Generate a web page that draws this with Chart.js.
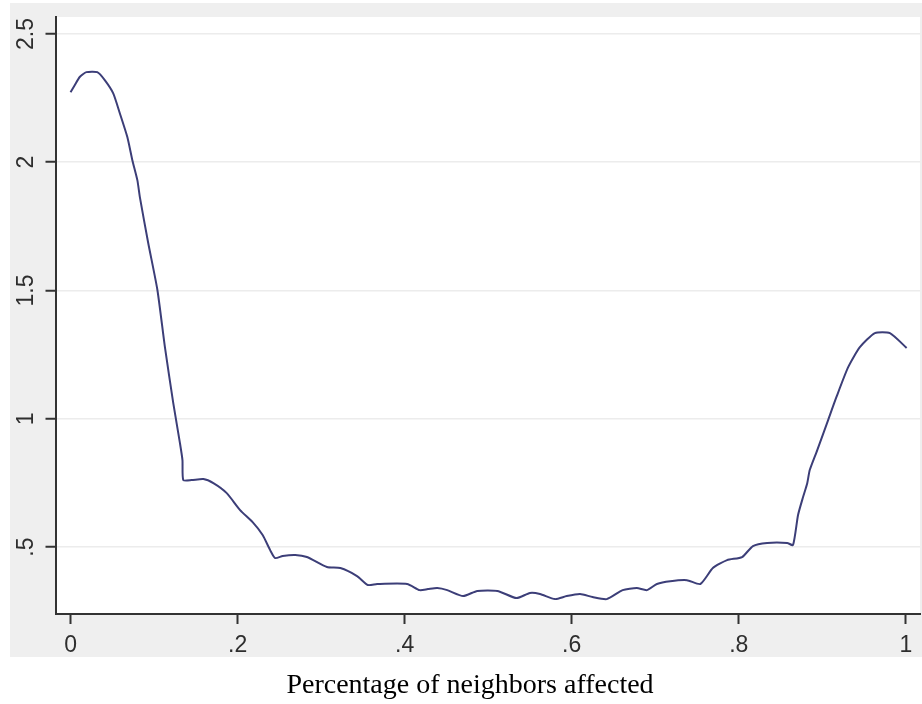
<!DOCTYPE html>
<html>
<head>
<meta charset="utf-8">
<script src="https://cdn.jsdelivr.net/npm/chart.js@4"></script>
<style>
html, body { margin: 0; padding: 0; background: #fff; }
</style>
</head>
<body>
<canvas id="chartDensity" width="922" height="704"></canvas>
<script>
// values
const xValues = [0.000, 0.005, 0.011, 0.019, 0.032, 0.041, 0.051, 0.059, 0.068, 0.074, 0.080, 0.083,
    0.093, 0.104, 0.113, 0.123, 0.131, 0.134, 0.135, 0.145, 0.159, 0.171, 0.187, 0.203, 0.218,
    0.230, 0.239, 0.245, 0.254, 0.269, 0.283, 0.307, 0.323, 0.343, 0.356, 0.367, 0.403, 0.418,
    0.428, 0.439, 0.451, 0.470, 0.487, 0.511, 0.534, 0.550, 0.562, 0.580, 0.594, 0.610, 0.625,
    0.642, 0.661, 0.678, 0.690, 0.702, 0.718, 0.738, 0.754, 0.769, 0.786, 0.804, 0.817, 0.834,
    0.858, 0.865, 0.871, 0.877, 0.882, 0.885, 0.894, 0.907, 0.917, 0.931, 0.945, 0.963, 0.981, 1.001];
const densityValues = [2.273, 2.300, 2.332, 2.351, 2.351, 2.320, 2.269, 2.191, 2.098, 2.008, 1.930, 1.864,
    1.685, 1.502, 1.279, 1.061, 0.905, 0.839, 0.761, 0.761, 0.765, 0.749, 0.710, 0.644, 0.597,
    0.547, 0.488, 0.457, 0.465, 0.469, 0.461, 0.422, 0.418, 0.387, 0.352, 0.356, 0.356, 0.332,
    0.336, 0.340, 0.332, 0.309, 0.329, 0.329, 0.301, 0.321, 0.317, 0.297, 0.309, 0.317, 0.305,
    0.297, 0.332, 0.340, 0.332, 0.356, 0.367, 0.371, 0.356, 0.418, 0.449, 0.461, 0.504, 0.516,
    0.516, 0.508, 0.625, 0.695, 0.749, 0.800, 0.878, 0.995, 1.085, 1.201, 1.279, 1.334, 1.334, 1.276];

const xTicks = [0, 0.2, 0.4, 0.6, 0.8, 1];
const xTickLabels = ['0', '.2', '.4', '.6', '.8', '1'];
const yTicks = [0.5, 1, 1.5, 2, 2.5];
const yTickLabels = ['.5', '1', '1.5', '2', '2.5'];
const xTitle = 'Percentage of neighbors affected';

const labelFont = '"Liberation Sans", Arial, sans-serif';

// gray frame, white plot region, rotated y labels and the x title
const stataFrame = {
    id: 'stataFrame',
    beforeDraw(chart) {
        const { ctx, chartArea: a } = chart;
        ctx.save();
        ctx.fillStyle = '#fff';
        ctx.fillRect(0, 0, chart.width, chart.height);
        ctx.fillStyle = '#efefef';
        ctx.fillRect(10, 3, chart.width - 10, 654);
        ctx.fillStyle = '#fff';
        ctx.fillRect(a.left, a.top, a.right - a.left, a.bottom - a.top);
        ctx.restore();
    },
    afterDraw(chart) {
        const { ctx } = chart;
        const yScale = chart.scales.y;
        ctx.save();
        ctx.font = '23px ' + labelFont;
        ctx.fillStyle = '#2e2e2e';
        ctx.textAlign = 'center';
        ctx.textBaseline = 'alphabetic';
        yTicks.forEach((v, i) => {
            ctx.save();
            ctx.translate(33, yScale.getPixelForValue(v));
            ctx.rotate(-Math.PI / 2);
            ctx.fillText(yTickLabels[i], 0, 0);
            ctx.restore();
        });
        ctx.font = '28px "Liberation Serif", "Times New Roman", serif';
        ctx.fillStyle = '#000';
        ctx.fillText(xTitle, 470, 693);
        ctx.restore();
    }
};

const ctx = document.getElementById('chartDensity');

new Chart(ctx, {
    type: 'line',
    data: {
        datasets: [{
            data: xValues.map((x, i) => ({ x: x, y: densityValues[i] })),
            borderColor: '#3c3e78',
            borderWidth: 2,
            pointRadius: 0,
            tension: 0.2,
            fill: false
        }]
    },
    options: {
        responsive: false,
        animation: false,
        layout: {
            padding: { left: 0, top: 17, right: 2, bottom: 0 }
        },
        plugins: {
            legend: { display: false },
            tooltip: { enabled: false }
        },
        scales: {
            x: {
                type: 'linear',
                min: -0.018,
                max: 1.017,
                afterBuildTicks: (scale) => { scale.ticks = xTicks.map(v => ({ value: v })); },
                afterFit: (scale) => { scale.height = 90; },
                grid: {
                    drawOnChartArea: false,
                    tickLength: 10,
                    tickWidth: 2,
                    tickColor: '#333'
                },
                border: { display: true, color: '#333', width: 2 },
                ticks: {
                    autoSkip: false,
                    maxRotation: 0,
                    padding: 8,
                    color: '#2e2e2e',
                    font: { size: 23, family: labelFont },
                    callback: (value, index) => xTickLabels[index]
                }
            },
            y: {
                min: 0.239,
                max: 2.566,
                afterBuildTicks: (scale) => { scale.ticks = yTicks.map(v => ({ value: v })); },
                afterFit: (scale) => { scale.width = 55.5; },
                grid: {
                    color: '#ececec',
                    lineWidth: 1.5,
                    tickLength: 10,
                    tickWidth: 2,
                    tickColor: '#333'
                },
                border: { display: true, color: '#333', width: 2 },
                ticks: { display: false }
            }
        }
    },
    plugins: [stataFrame]
});
</script>
</body>
</html>
